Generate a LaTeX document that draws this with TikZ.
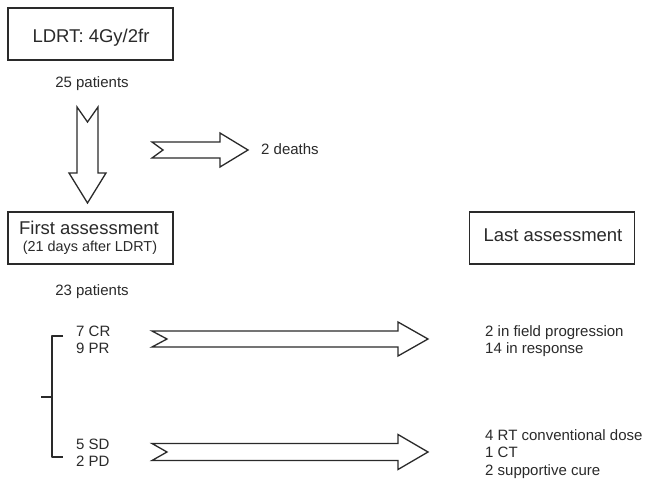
\documentclass[tikz,border=0pt]{standalone}
\usepackage{fontspec}
\setmainfont{Liberation Sans}
\definecolor{ink}{HTML}{2A2A2A}
\begin{document}
\begin{tikzpicture}[x=1pt,y=-1pt,
  box/.style={draw=ink,line width=1.7pt,minimum width=165pt,minimum height=52pt,inner sep=0pt},
  big/.style={font=\fontsize{18.5}{22}\selectfont,text=ink,inner sep=0pt,anchor=base},
  mid/.style={font=\fontsize{14.4}{17}\selectfont,text=ink,inner sep=0pt,anchor=base},
  small/.style={font=\fontsize{15}{17.5}\selectfont,text=ink,inner sep=0pt,anchor=base west},
  smallc/.style={font=\fontsize{15}{17.5}\selectfont,text=ink,inner sep=0pt,anchor=base},
  barrow/.style={draw=ink,line width=1.3pt,fill=white,line join=miter},
  brace/.style={draw=ink,line width=1.6pt,line join=round}]
\useasboundingbox[fill=white] (0,0) rectangle (651,481);

% boxes
\node[box] (ldrt) at (90.5,34) {};
\node[big] (ldrtt) at (91,43) {LDRT: 4Gy/2fr};
\node[box] (first) at (90.5,238) {};
\node[big] (firstt) at (89,235) {First assessment};
\node[mid] (firsts) at (90,252) {(21 days after LDRT)};
\node[box] (last) at (552,238) {};
\node[big] (lastt) at (553,242) {Last assessment};

% counts
\node[smallc] (p25) at (92,88) {25 patients};
\node[small] (deaths) at (261,155) {2 deaths};
\node[smallc] (p23) at (92,295) {23 patients};

% down arrow
\draw[barrow] (77,107) -- (87.5,122) -- (98,107) -- (98,173) -- (106,173)
  -- (87.5,203) -- (69,173) -- (77,173) -- cycle;
% deaths arrow
\draw[barrow] (152,142) -- (163,150) -- (152,158) -- (220,158) -- (220,167)
  -- (248,150) -- (220,133) -- (220,142) -- cycle;
% response arrows
\draw[barrow] (152,331) -- (167,339) -- (152,347) -- (398,347) -- (398,356)
  -- (428,339) -- (398,322) -- (398,331) -- cycle;
\draw[barrow] (152,443.5) -- (167,452) -- (152,460.5) -- (398,460.5) -- (398,469.5)
  -- (428,452) -- (398,434.5) -- (398,443.5) -- cycle;

% bracket
\coordinate (bt) at (63,336);
\coordinate (bb) at (63,457);
\coordinate (bm) at (41,397);
\draw[brace] (bt) -- (52,336) -- (52,457) -- (bb);
\draw[brace] (52,397) -- (bm);

% group labels
\node[small] (cr) at (76,336) {7 CR};
\node[small] (pr) at (76,353) {9 PR};
\node[small] (sd) at (76,449) {5 SD};
\node[small] (pd) at (76,466) {2 PD};

% outcomes
\node[small] (o1) at (485,336) {2 in field progression};
\node[small] (o2) at (485,353) {14 in response};
\node[small] (o3) at (485,440) {4 RT conventional dose};
\node[small] (o4) at (485,457.5) {1 CT};
\node[small] (o5) at (485,475) {2 supportive cure};
\end{tikzpicture}
\end{document}
